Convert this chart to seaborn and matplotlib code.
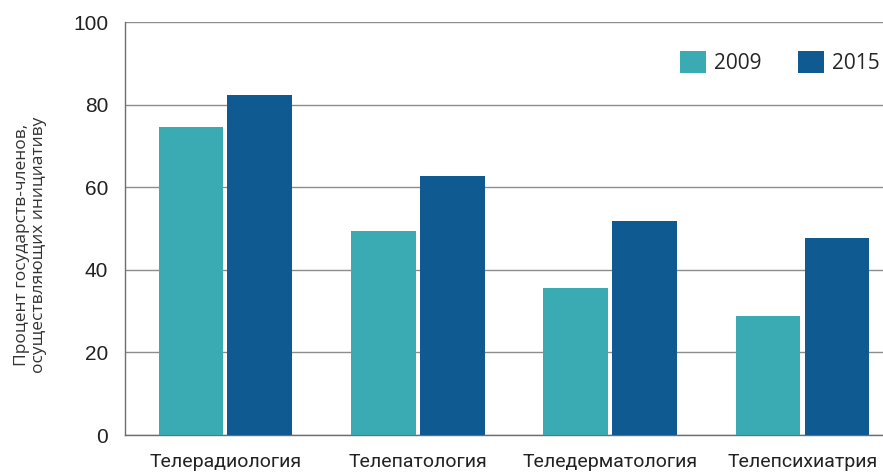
import pandas as pd
import matplotlib.pyplot as plt
import seaborn as sns

# данные
categories = ['Телерадиология', 'Телепатология', 'Теледерматология', 'Телепсихиатрия']
years = ['2009', '2015']
values_2009 = [74.5, 49.5, 35.7, 28.8]
values_2015 = [82.4, 62.6, 51.7, 47.6]

df = pd.DataFrame({
    'category': categories * 2,
    'year': [years[0]] * 4 + [years[1]] * 4,
    'value': values_2009 + values_2015,
})

sns.set_style('white')
plt.rcParams['font.family'] = ['Open Sans', 'DejaVu Sans']

fig = plt.figure(figsize=(8.83, 4.73), dpi=100)
ax = fig.add_axes([125 / 883, 1 - 435 / 473, 781 / 883, 413 / 473])

palette = {'2009': '#3aabb3', '2015': '#0f5a91'}
sns.barplot(data=df, x='category', y='value', hue='year', palette=palette,
            width=0.717, gap=0.06, saturation=1, linewidth=0, ax=ax, zorder=3)

ax.set_ylim(0, 100)
ax.set_xlim(-0.522, 3.538)
ax.set_yticks([0, 20, 40, 60, 80, 100])
ax.yaxis.grid(True, color='#8c8c8c', linewidth=1)
ax.set_axisbelow(True)
for s in ['top', 'right']:
    ax.spines[s].set_visible(False)
for s in ['left', 'bottom']:
    ax.spines[s].set_color('#6e6e6e')
    ax.spines[s].set_linewidth(1)

ax.tick_params(axis='both', length=0, colors='#222222')
ax.tick_params(axis='y', labelsize=15, pad=12)
for lbl in ax.get_yticklabels():
    lbl.set_family(['Liberation Sans', 'DejaVu Sans'])
ax.tick_params(axis='x', labelsize=14, pad=13)
for lbl in ax.get_xticklabels():
    lbl.set_family(['Roboto', 'DejaVu Sans'])

ax.set_xlabel('')
ax.set_ylabel('Процент государств-членов,\nосуществляющих инициативу',
              fontsize=12.5, color='#333333', linespacing=1.1)
ax.yaxis.set_label_coords(-0.1, 0.46)

ax.legend(loc='upper left', bbox_to_anchor=(680 / 883, 1 - 51 / 473),
          bbox_transform=fig.transFigure, ncol=2, frameon=False,
          fontsize=15, handlelength=1.25, handleheight=1.25, borderpad=0,
          borderaxespad=0, columnspacing=1.75, handletextpad=0.38)

fig.savefig('out.png', dpi=100)
